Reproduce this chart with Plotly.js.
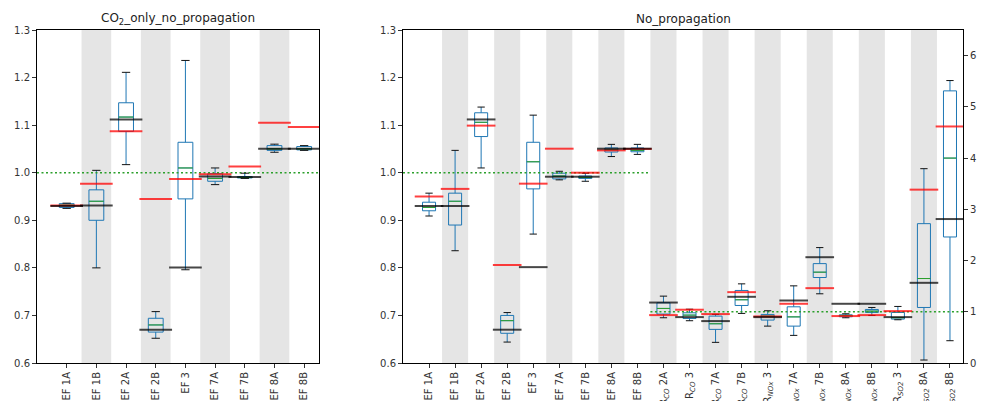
<!DOCTYPE html>
<html>
<head>
<meta charset="utf-8">
<script src="https://cdn.plot.ly/plotly-3.0.1.min.js"></script>
<style>
  html, body { margin: 0; padding: 0; background: #fff; }
  #chart { width: 981px; height: 401px; }
</style>
</head>
<body>
<div id="chart"></div>
<script>
// ---- emission factors, CO2-only run ----
const efLabels = ['EF 1A', 'EF 1B', 'EF 2A', 'EF 2B', 'EF 3', 'EF 7A', 'EF 7B', 'EF 8A', 'EF 8B'];
const co2Low   = [0.925, 0.800, 1.017, 0.652, 0.796, 0.975, 0.988, 1.043, 1.047];
const co2Q1    = [0.927, 0.900, 1.087, 0.665, 0.945, 0.982, 0.989, 1.047, 1.048];
const co2Med   = [0.932, 0.940, 1.117, 0.680, 1.010, 0.988, 0.990, 1.050, 1.050];
const co2Q3    = [0.935, 0.964, 1.147, 0.694, 1.064, 0.998, 0.992, 1.057, 1.055];
const co2High  = [0.936, 1.005, 1.211, 0.708, 1.236, 1.010, 0.999, 1.060, 1.057];
const co2Prior = [0.931, 0.977, 1.087, 0.945, 0.987, 0.997, 1.013, 1.105, 1.096];
const co2True  = [0.930, 0.931, 1.112, 0.670, 0.801, 0.992, 0.991, 1.0505, 1.0505];

// ---- emission factors, no-propagation run ----
const npLow   = [0.909, 0.836, 1.010, 0.644, 0.871, 0.985, 0.982, 1.034, 1.0385];
const npQ1    = [0.920, 0.890, 1.076, 0.6625, 0.966, 0.987, 0.988, 1.0435, 1.044];
const npMed   = [0.927, 0.940, 1.106, 0.689, 1.023, 0.993, 0.990, 1.048, 1.047];
const npQ3    = [0.938, 0.957, 1.126, 0.700, 1.064, 0.999, 0.993, 1.052, 1.052];
const npHigh  = [0.957, 1.047, 1.138, 0.706, 1.121, 1.003, 0.999, 1.0596, 1.0596];
const npPrior = [0.950, 0.966, 1.099, 0.806, 0.977, 1.0505, 1.000, 1.047, 1.050];
const npTrue  = [0.930, 0.930, 1.112, 0.670, 0.8015, 0.9916, 0.9916, 1.0505, 1.0505];

// ---- co-emitted species ratios, no-propagation run (right-hand axis) ----
const ratioLabels = [
  'R<sub><i>CO</i></sub> 2A', 'R<sub><i>CO</i></sub> 3', 'R<sub><i>CO</i></sub> 7A', 'R<sub><i>CO</i></sub> 7B',
  'R<sub><i>NOx</i></sub> 3', 'R<sub><i>NOx</i></sub> 7A', 'R<sub><i>NOx</i></sub> 7B', 'R<sub><i>NOx</i></sub> 8A',
  'R<sub><i>NOx</i></sub> 8B', 'R<sub><i>SO2</i></sub> 3', 'R<sub><i>SO2</i></sub> 8A', 'R<sub><i>SO2</i></sub> 8B'
];
const ratioLow   = [0.883, 0.825, 0.403, 0.968, 0.720, 0.539, 1.351, 0.883, 0.929, 0.844, 0.058, 0.435];
const ratioQ1    = [0.955, 0.870, 0.656, 1.123, 0.838, 0.720, 1.669, 0.903, 0.987, 0.857, 1.084, 2.460];
const ratioMed   = [1.065, 0.935, 0.766, 1.234, 0.916, 0.900, 1.773, 0.929, 1.013, 0.883, 1.649, 4.000];
const ratioQ3    = [1.175, 0.980, 0.915, 1.416, 0.948, 1.097, 1.940, 0.940, 1.045, 0.987, 2.720, 5.312];
const ratioHigh  = [1.305, 1.050, 0.950, 1.545, 1.020, 1.506, 2.253, 0.961, 1.084, 1.104, 3.793, 5.513];
const ratioPrior = [0.935, 1.040, 0.955, 1.383, 0.909, 1.156, 1.461, 0.916, 0.935, 1.013, 3.384, 4.617];
const ratioTrue  = [1.180, 0.896, 0.818, 1.292, 0.896, 1.220, 2.065, 1.156, 1.156, 0.896, 1.565, 2.810];

const refLevel = 1.0;

// ---- styling ----
const FONT = 'DejaVu Sans, Liberation Sans, sans-serif';
const BLUE = '#1f77b4';
const GREEN = '#2ca02c';
const PRIOR_COLOR = 'rgba(255,0,0,0.75)';
const TRUE_COLOR = 'rgba(0,0,0,0.72)';
const BAND = '#e5e5e5';

const idx = (n, start) => Array.from({length: n}, (_, i) => i + start);

// horizontal segments centred on each position
function segments(pos, vals, half) {
  const x = [], y = [];
  pos.forEach((p, i) => { x.push(p - half, p + half, null); y.push(vals[i], vals[i], null); });
  return {x, y};
}

function boxGroup(pos, low, q1, med, q3, high, prior, truth, xa, ya) {
  const out = [];
  out.push({
    type: 'box', x: pos, q1: q1, median: med, q3: q3, lowerfence: low, upperfence: high,
    width: 0.5, whiskerwidth: 0, boxpoints: false,
    line: {color: BLUE, width: 1}, fillcolor: 'rgba(0,0,0,0)',
    xaxis: xa, yaxis: ya, hoverinfo: 'skip', showlegend: false
  });
  const caps = segments(pos.concat(pos), low.concat(high), 0.14);
  out.push({type: 'scatter', mode: 'lines', x: caps.x, y: caps.y, line: {color: '#111', width: 1},
            xaxis: xa, yaxis: ya, hoverinfo: 'skip', showlegend: false});
  const m = segments(pos, med, 0.25);
  out.push({type: 'scatter', mode: 'lines', x: m.x, y: m.y, line: {color: GREEN, width: 1},
            xaxis: xa, yaxis: ya, hoverinfo: 'skip', showlegend: false});
  const p = segments(pos, prior, 0.55);
  out.push({type: 'scatter', mode: 'lines', x: p.x, y: p.y, line: {color: PRIOR_COLOR, width: 2},
            xaxis: xa, yaxis: ya, hoverinfo: 'skip', showlegend: false});
  const t = segments(pos, truth, 0.55);
  out.push({type: 'scatter', mode: 'lines', x: t.x, y: t.y, line: {color: TRUE_COLOR, width: 2},
            xaxis: xa, yaxis: ya, hoverinfo: 'skip', showlegend: false});
  return out;
}

const leftPos = idx(efLabels.length, 0);
const rightEfPos = idx(efLabels.length, 0);
const ratioPos = idx(ratioLabels.length, efLabels.length);
const rightAll = rightEfPos.concat(ratioPos);

const traces = [];
const dotted = {color: GREEN, width: 1.6, dash: '2px,2.5px'};
traces.push({type: 'scatter', mode: 'lines', x: [-1, 8.5], y: [refLevel, refLevel], line: dotted,
             xaxis: 'x', yaxis: 'y', hoverinfo: 'skip', showlegend: false});
traces.push({type: 'scatter', mode: 'lines', x: [-1, 8.5], y: [refLevel, refLevel], line: dotted,
             xaxis: 'x2', yaxis: 'y2', hoverinfo: 'skip', showlegend: false});
traces.push({type: 'scatter', mode: 'lines', x: [8.5, 20.5], y: [refLevel, refLevel], line: dotted,
             xaxis: 'x2', yaxis: 'y3', hoverinfo: 'skip', showlegend: false});

traces.push(...boxGroup(leftPos, co2Low, co2Q1, co2Med, co2Q3, co2High, co2Prior, co2True, 'x', 'y'));
traces.push(...boxGroup(rightEfPos, npLow, npQ1, npMed, npQ3, npHigh, npPrior, npTrue, 'x2', 'y2'));
traces.push(...boxGroup(ratioPos, ratioLow, ratioQ1, ratioMed, ratioQ3, ratioHigh, ratioPrior, ratioTrue, 'x2', 'y3'));

// alternating grey bands behind every second category
const shapes = [];
leftPos.filter(i => i % 2 === 1).forEach(i => shapes.push({
  type: 'rect', xref: 'x', yref: 'y domain', x0: i - 0.5, x1: i + 0.5, y0: 0, y1: 1,
  fillcolor: BAND, line: {width: 0}, layer: 'below'}));
rightAll.filter(i => i % 2 === 1).forEach(i => shapes.push({
  type: 'rect', xref: 'x2', yref: 'y2 domain', x0: i - 0.5, x1: i + 0.5, y0: 0, y1: 1,
  fillcolor: BAND, line: {width: 0}, layer: 'below'}));

const tickFont = {family: FONT, size: 10, color: '#333'};
const frame = {showline: true, linecolor: '#000', linewidth: 1, mirror: true,
               ticks: 'outside', ticklen: 4, tickcolor: '#333', showgrid: false, zeroline: false};
const yDomain = [1 - 363 / 401, 1 - 30 / 401];
const yTicks = [0.6, 0.7, 0.8, 0.9, 1.0, 1.1, 1.2, 1.3];

const layout = {
  width: 981, height: 401,
  margin: {l: 0, r: 0, t: 0, b: 0},
  paper_bgcolor: '#fff', plot_bgcolor: '#fff',
  font: {family: FONT, size: 10, color: '#333'},
  showlegend: false,
  shapes: shapes,
  xaxis: Object.assign({}, frame, {
    domain: [37 / 981, 319 / 981], range: [-1, 8.5], anchor: 'y',
    tickvals: leftPos, ticktext: efLabels, tickangle: -90, tickfont: tickFont}),
  yaxis: Object.assign({}, frame, {
    domain: yDomain, range: [0.6, 1.3], anchor: 'x',
    tickvals: yTicks, tickformat: '.1f', tickfont: tickFont}),
  xaxis2: Object.assign({}, frame, {
    domain: [403 / 981, 963 / 981], range: [-1, 20.5], anchor: 'y2',
    tickvals: rightAll, ticktext: efLabels.concat(ratioLabels), tickangle: -90, tickfont: tickFont}),
  yaxis2: Object.assign({}, frame, {
    domain: yDomain, range: [0.6, 1.3], anchor: 'x2',
    tickvals: yTicks, tickformat: '.1f', tickfont: tickFont}),
  yaxis3: {
    overlaying: 'y2', side: 'right', anchor: 'x2', range: [0, 6.5],
    tickvals: [0, 1, 2, 3, 4, 5, 6], ticks: 'outside', ticklen: 4, tickcolor: '#333',
    showline: true, linecolor: '#000', linewidth: 1,
    showgrid: false, zeroline: false, tickfont: tickFont},
  annotations: [
    {text: 'CO<sub>2</sub>_only_no_propagation', xref: 'paper', yref: 'paper',
     x: 178 / 981, y: 1 - 19 / 401, xanchor: 'center', yanchor: 'middle', showarrow: false,
     font: {family: FONT, size: 12, color: '#222'}},
    {text: 'No_propagation', xref: 'paper', yref: 'paper',
     x: 683 / 981, y: 1 - 19 / 401, xanchor: 'center', yanchor: 'middle', showarrow: false,
     font: {family: FONT, size: 12, color: '#222'}}
  ]
};

Plotly.newPlot('chart', traces, layout, {staticPlot: true, displayModeBar: false});
</script>
</body>
</html>
